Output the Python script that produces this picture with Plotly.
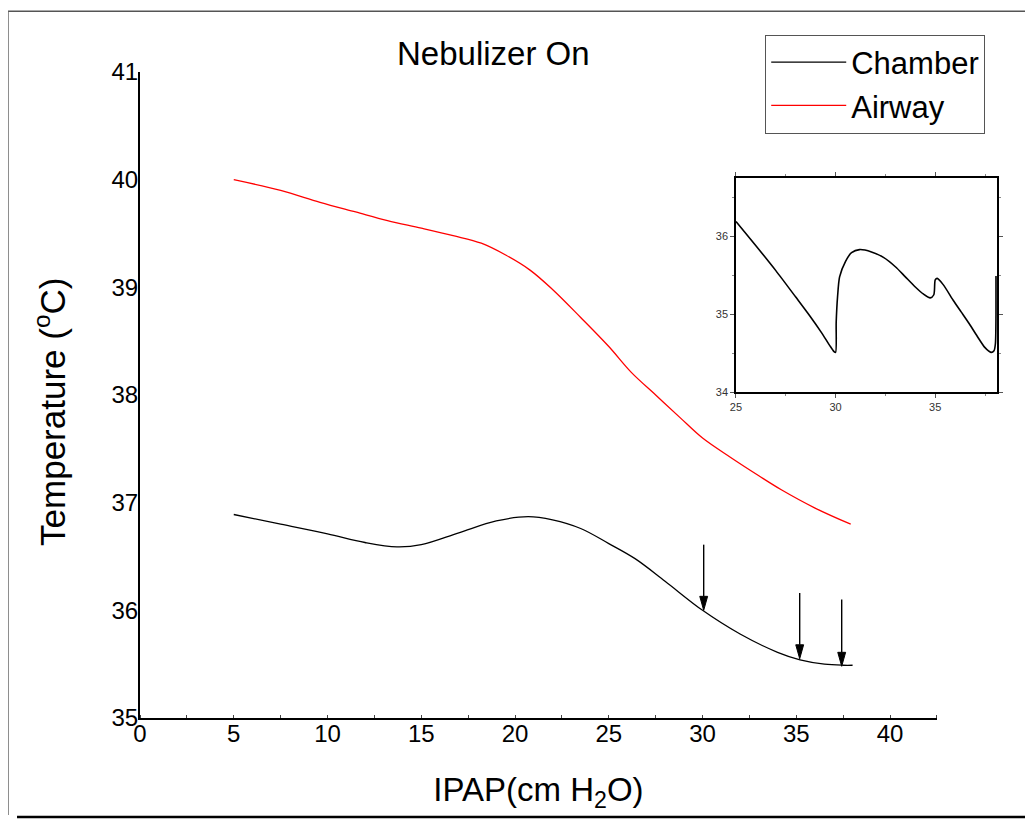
import plotly.graph_objects as go

# ---------------- data ----------------
chamber_x = [5, 7.5, 10, 12, 13.7, 15, 17, 19, 20.7, 22, 23.5, 25, 26.4, 28, 30, 32, 34, 35.2, 36.5, 37.5, 38]
chamber_y = [36.89, 36.80, 36.71, 36.63, 36.59, 36.61, 36.72, 36.83, 36.87, 36.84, 36.76, 36.62, 36.48,
             36.27, 36.0, 35.78, 35.61, 35.54, 35.50, 35.49, 35.49]

airway_x = [5, 7.5, 9.6, 11.5, 13.2, 15, 16.7, 18.2, 19.5, 20.8, 22, 23.5, 25, 26.2, 27.5, 28.8, 30,
            31.5, 33, 34.2, 36, 37.9]
airway_y = [40.0, 39.9, 39.79, 39.7, 39.62, 39.55, 39.48, 39.41, 39.3, 39.16, 38.98, 38.72, 38.45,
            38.21, 38.0, 37.79, 37.6, 37.42, 37.25, 37.12, 36.95, 36.80]

# arrows pointing at the chamber curve
arrow_x = [30.06, 35.18, 37.42]
arrow_tip = [36.0, 35.55, 35.48]
arrow_tail = [36.61, 36.16, 36.10]

# inset (chamber, 25-38)
inset_x = [25, 26.0, 27.0, 28.0, 28.7, 29.3, 29.7, 29.92, 30.0, 30.03, 30.1, 30.2, 30.5, 30.8, 31.2,
           31.8, 32.4, 33.0, 33.5, 34.0, 34.4, 34.75, 34.93, 35.0, 35.1, 35.4, 35.9, 36.3, 36.7,
           37.1, 37.5, 37.8, 37.95, 38.02, 38.05, 38.05]
inset_y = [36.19, 35.88, 35.56, 35.22, 34.98, 34.76, 34.6, 34.52, 34.51, 34.9, 35.23, 35.48, 35.68,
           35.79, 35.83, 35.80, 35.73, 35.61, 35.48, 35.35, 35.26, 35.21, 35.25, 35.44, 35.46, 35.38,
           35.18, 35.03, 34.88, 34.72, 34.57, 34.51, 34.53, 34.62, 35.0, 35.49]

x_ticks = [0, 5, 10, 15, 20, 25, 30, 35, 40]
y_ticks = [35, 36, 37, 38, 39, 40, 41]
inset_x_ticks = [25, 30, 35]
inset_y_ticks = [34, 35, 36]

FONT = "Liberation Sans, Arial, sans-serif"

# arrowhead size in data units (half width, length)
HEAD_HW = 0.21
HEAD_LEN = 0.13

fig = go.Figure()
fig.add_trace(go.Scatter(x=chamber_x, y=chamber_y, mode="lines", name="Chamber",
                         line=dict(color="black", width=1.3, shape="spline", smoothing=1.0)))
fig.add_trace(go.Scatter(x=airway_x, y=airway_y, mode="lines", name="Airway",
                         line=dict(color="red", width=1.3, shape="spline", smoothing=1.0)))

# arrow shafts and filled heads
shaft_x, shaft_y, head_x, head_y = [], [], [], []
for ax_, tip, tail in zip(arrow_x, arrow_tip, arrow_tail):
    shaft_x += [ax_, ax_, None]
    shaft_y += [tail, tip + HEAD_LEN, None]
    head_x += [ax_ - HEAD_HW, ax_ + HEAD_HW, ax_, ax_ - HEAD_HW, None]
    head_y += [tip + HEAD_LEN, tip + HEAD_LEN, tip, tip + HEAD_LEN, None]
fig.add_trace(go.Scatter(x=shaft_x, y=shaft_y, mode="lines", showlegend=False, hoverinfo="skip",
                         line=dict(color="black", width=1.4)))
fig.add_trace(go.Scatter(x=head_x, y=head_y, mode="lines", fill="toself", fillcolor="black",
                         showlegend=False, hoverinfo="skip", line=dict(color="black", width=1)))

fig.add_trace(go.Scatter(x=inset_x, y=inset_y, mode="lines", showlegend=False,
                         xaxis="x2", yaxis="y2",
                         line=dict(color="black", width=1.6, shape="spline", smoothing=0.7)))

annotations = [
    dict(text="Nebulizer On", x=0.4116, y=1.029, xref="paper", yref="paper",
         showarrow=False, xanchor="center", yanchor="middle",
         font=dict(size=33, color="black", family=FONT)),
    dict(text="Temperature (<sup>o</sup>C)", x=-0.1047, y=0.4737, xref="paper", yref="paper",
         showarrow=False, xanchor="center", yanchor="middle", textangle=-90,
         font=dict(size=35, color="black", family=FONT)),
]

shapes = [
    dict(type="line", xref="paper", yref="paper", x0=-0.1593, x1=1.05, y0=1.094, y1=1.094,
         line=dict(color="#555555", width=1.5)),
    dict(type="line", xref="paper", yref="paper", x0=-0.1535, x1=-0.1535, y0=1.094, y1=-0.150,
         line=dict(color="#666666", width=1.5)),
    dict(type="line", xref="paper", yref="paper", x0=-0.143, x1=1.05, y0=-0.1533, y1=-0.1533,
         line=dict(color="black", width=2.5)),
]

fig.update_layout(
    width=1033, height=820,
    margin=dict(l=132, r=41, t=64, b=110),
    paper_bgcolor="white", plot_bgcolor="white",
    font=dict(family=FONT, color="black"),
    showlegend=True,
    legend=dict(x=0.727, y=0.9814, xanchor="left", yanchor="middle",
                bordercolor="#555555", borderwidth=1, bgcolor="white",
                font=dict(size=31, family=FONT, color="black"),
                tracegroupgap=0, itemwidth=75),
    xaxis=dict(domain=[0, 0.9267], range=[0, 42.5], tickvals=x_ticks,
               showline=True, linecolor="black", linewidth=2, showgrid=False, zeroline=False,
               ticks="", tickfont=dict(size=24), ticklabelstandoff=-7,
               minor=dict(dtick=2.5, tick0=0, ticks="inside", ticklen=3, tickcolor="#444"),
               title=dict(text="IPAP(cm H<sub>2</sub>O)", font=dict(size=33), standoff=32)),
    yaxis=dict(domain=[0, 1], range=[35, 41], tickvals=y_ticks,
               showline=True, linecolor="black", linewidth=2, showgrid=False, zeroline=False,
               ticks="", tickfont=dict(size=24), ticklabelstandoff=-5),
    xaxis2=dict(domain=[0.693, 0.9965], anchor="y2", range=[25, 38.1], tickvals=inset_x_ticks,
                showline=True, linecolor="black", linewidth=1.5, mirror="ticks", showgrid=False,
                zeroline=False, ticks="outside", ticklen=4, tickcolor="#555",
                minor=dict(dtick=2.5, tick0=25, ticks="outside", ticklen=2, tickcolor="#888"),
                tickfont=dict(size=11, color="#333")),
    yaxis2=dict(domain=[0.5046, 0.8359], anchor="x2", range=[34, 36.75], tickvals=inset_y_ticks,
                showline=True, linecolor="black", linewidth=1.5, mirror="ticks", showgrid=False,
                zeroline=False, ticks="outside", ticklen=4, tickcolor="#555",
                minor=dict(dtick=0.5, tick0=34, ticks="outside", ticklen=2, tickcolor="#888"),
                tickfont=dict(size=11, color="#333")),
    annotations=annotations,
    shapes=shapes,
)

fig.write_html("out.html")
